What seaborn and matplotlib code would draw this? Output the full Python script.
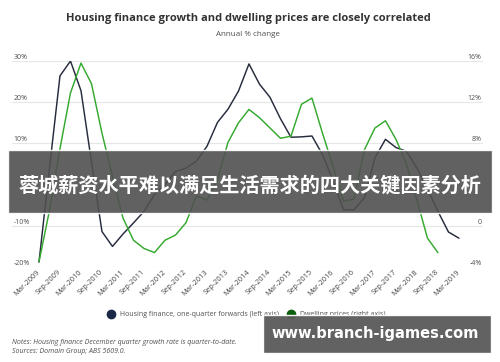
import numpy as np
import pandas as pd
import seaborn as sns
import matplotlib.pyplot as plt
from matplotlib.lines import Line2D
from matplotlib.patches import Rectangle

# quarterly data, Mar-2009 .. Mar-2019 (annual % change)
housing_finance = [-18.8, 4, 26.4, 30, 22.8, 5.5, -11.4, -15, -12, -9.3,
                   -6.5, -2.4, 0, 3.2, 4, 5.7, 9.3, 15.1, 18.3, 22.7,
                   29.3, 24.4, 21.2, 16, 11.5, 11.6, 11.8, 7.3, 1, -6.1,
                   -6.1, -3.2, 6.5, 11, 9, 8.1, 4, -1, -6.5, -11.5, -13]
dwelling_prices = [-3.5, 1.5, 7.5, 12.9, 15.8, 13.8, 9, 4.8, 0.75, -1.4,
                   -2.2, -2.6, -1.4, -0.9, 0.3, 2.9, 2.5, 4.5, 8.1, 10,
                   11.3, 10.5, 9.5, 8.5, 8.7, 11.8, 12.4, 9.0, 5.8, 2.4,
                   2.6, 7.4, 9.5, 10.2, 8.4, 6, 2.5, -1.2, -2.6]
tick_labels = ['Mar-2009', 'Sep-2009', 'Mar-2010', 'Sep-2010', 'Mar-2011', 'Sep-2011',
               'Mar-2012', 'Sep-2012', 'Mar-2013', 'Sep-2013', 'Mar-2014', 'Sep-2014',
               'Mar-2015', 'Sep-2015', 'Mar-2016', 'Sep-2016', 'Mar-2017', 'Sep-2017',
               'Mar-2018', 'Sep-2018', 'Mar-2019']
left_ticks = [-20, -10, 0, 10, 20, 30]
left_tick_labels = ['-20%', '-10%', '', '10%', '20%', '30%']   # 0% hidden under the banner
right_ticks = [-4, 0, 4, 8, 12, 16]
right_tick_labels = ['-4%', '0', '', '8%', '12%', '16%']       # 4% hidden under the banner

df_hf = pd.DataFrame({'q': np.arange(len(housing_finance)), 'v': housing_finance})
df_dp = pd.DataFrame({'q': np.arange(len(dwelling_prices)), 'v': dwelling_prices})

sns.set_theme(style='white')
plt.rcParams['font.family'] = ['Open Sans', 'DejaVu Sans']

navy = '#262b3d'
green = '#34a92e'
grey = '#505050'

fig = plt.figure(figsize=(5, 3.62), dpi=100)
ax = fig.add_axes([0.024, 0.2624, 0.942, 0.569])
ax2 = ax.twinx()

sns.lineplot(data=df_hf, x='q', y='v', color=navy, lw=1.05, ax=ax, zorder=3)
sns.lineplot(data=df_dp, x='q', y='v', color=green, lw=1.05, ax=ax2, zorder=3)

ax.set_xlim(-2.57, 42.29)
ax.set_ylim(-20, 30)
ax2.set_ylim(-4, 16)
for a in (ax, ax2):
    a.set_xlabel('')
    a.set_ylabel('')
    for s in a.spines.values():
        s.set_visible(False)

ax.set_yticks(left_ticks, labels=left_tick_labels)
ax2.set_yticks(right_ticks, labels=right_tick_labels)
ax.tick_params(axis='y', length=0, pad=-1, labelsize=5, labelcolor=grey)
ax2.tick_params(axis='y', length=0, pad=-1, labelsize=5, labelcolor=grey)
for lbl in ax.get_yticklabels():
    lbl.set_ha('left')
    lbl.set_va('bottom')
for lbl in ax2.get_yticklabels():
    lbl.set_ha('right')
    lbl.set_va('bottom')
ax.grid(axis='y', color='#e6e6e6', lw=0.8)
ax.set_axisbelow(True)

ax.set_xticks(np.arange(0, 41, 2), labels=tick_labels)
ax.tick_params(axis='x', length=0, pad=3, labelsize=5.4, labelcolor='#444444')
for lbl in ax.get_xticklabels():
    lbl.set_rotation(45)
    lbl.set_ha('right')
    lbl.set_va('center')
    lbl.set_rotation_mode('anchor')

fig.text(0.496, 0.950, 'Housing finance growth and dwelling prices are closely correlated',
         ha='center', va='center', fontsize=8, weight='bold', color='#333333')
fig.text(0.496, 0.906, 'Annual % change', ha='center', va='center', fontsize=5.8, color=grey)

handles = [Line2D([], [], marker='o', ls='', ms=6, color='#1c2847'),
           Line2D([], [], marker='o', ls='', ms=6, color='#0b5e0b')]
fig.legend(handles, ['Housing finance, one-quarter forwards (left axis)', 'Dwelling prices (right axis)'],
           loc='center', bbox_to_anchor=(0.49, 0.13), ncol=2, frameon=False, fontsize=5,
           labelcolor=grey, handletextpad=0.3, columnspacing=0.8)

fig.text(0.024, 0.041, 'Notes: Housing finance December quarter growth rate is quarter-to-date.\n'
         'Sources: Domain Group; ABS 5609.0.', ha='left', va='center', fontsize=5,
         style='italic', color=grey, linespacing=1.3)

# watermark banners
fig.patches.append(Rectangle((0.016, 0.4116), 0.968, 0.174, transform=fig.transFigure,
                             facecolor='#505050', alpha=0.9, zorder=10))
fig.text(0.5, 0.488, '蓉城薪资水平难以满足生活需求的四大关键因素分析', ha='center', va='center',
         fontsize=14.5, weight='bold', color='white', zorder=11,
         family=['Noto Sans CJK SC', 'DejaVu Sans'])
fig.patches.append(Rectangle((0.526, 0.026), 0.456, 0.104, transform=fig.transFigure,
                             facecolor='#595959', alpha=0.95, zorder=10))
fig.text(0.75, 0.08, 'www.branch-igames.com', ha='center', va='center', fontsize=10.5,
         weight='bold', color='white', zorder=11, family=['DejaVu Sans'])

fig.savefig('out.png', dpi=100)
